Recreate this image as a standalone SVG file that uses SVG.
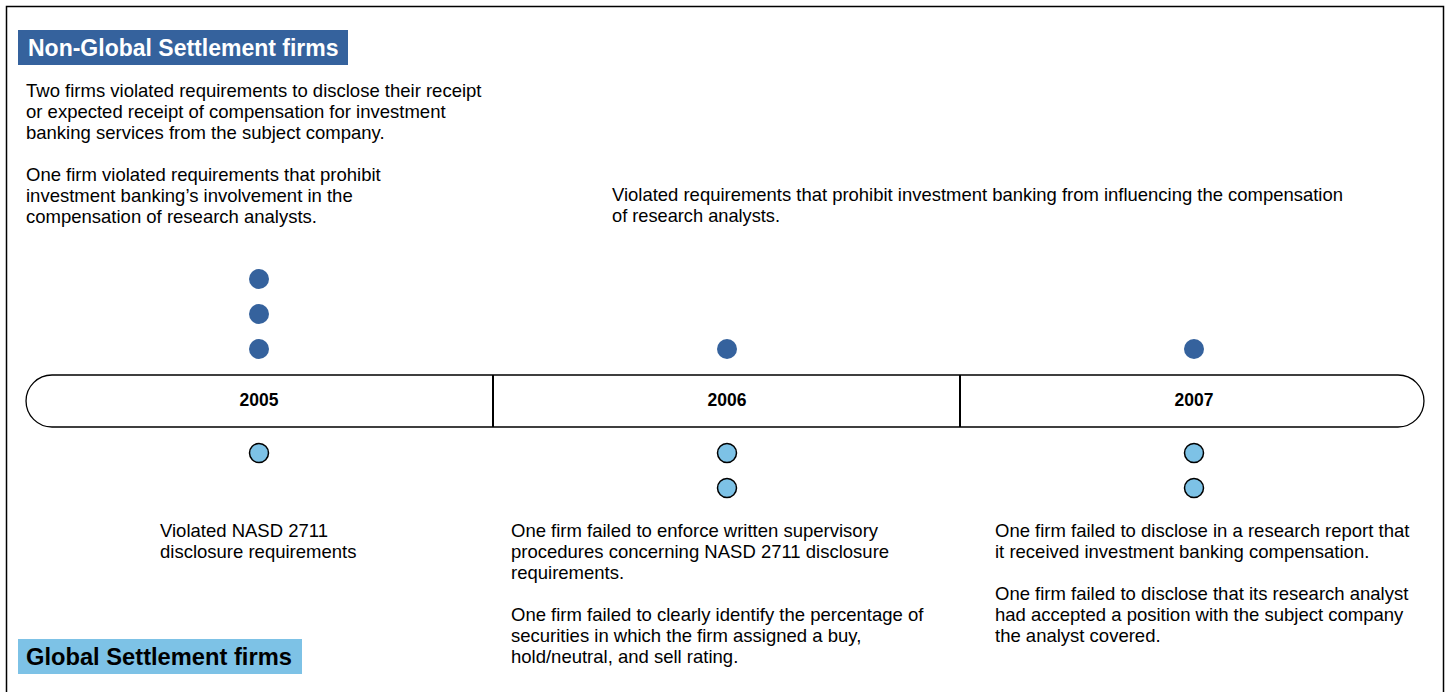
<svg xmlns="http://www.w3.org/2000/svg" width="1449" height="692" viewBox="0 0 1449 692">
<style>
  .t { font-family: "Liberation Sans", Arial, sans-serif; font-size: 18.5px; fill: #000; }
  .yr { font-family: "Liberation Sans", Arial, sans-serif; font-size: 17.5px; font-weight: bold; fill: #000; text-anchor: middle; }
  .hd { font-family: "Liberation Sans", Arial, sans-serif; font-size: 23px; font-weight: bold; }
  .dk { fill: #35629D; }
  .lt { fill: #7DC2E6; stroke: #000; stroke-width: 1.5; }
</style>
<rect x="0" y="0" width="1449" height="692" fill="#fff"/>
<rect x="6.5" y="6.5" width="1437" height="700" fill="none" stroke="#000" stroke-width="1.5"/>

<g id="header-nongs">
  <rect x="18" y="30" width="330" height="35" fill="#35629D"/>
  <text class="hd" x="28" y="56" fill="#fff">Non-Global Settlement firms</text>
</g>
<g id="header-gs">
  <rect x="18" y="639" width="284" height="35" fill="#7DC2E6"/>
  <text class="hd" x="26" y="665" fill="#000" style="font-size:23.7px">Global Settlement firms</text>
</g>

<g id="timeline">
  <path d="M52,375 H1398 A26,26 0 0 1 1398,427 H52 A26,26 0 0 1 52,375 Z" fill="#fff" stroke="#000" stroke-width="1.3"/>
  <line x1="493" y1="375" x2="493" y2="427" stroke="#000" stroke-width="2"/>
  <line x1="960" y1="375" x2="960" y2="427" stroke="#000" stroke-width="2"/>
  <text class="yr" x="259" y="406">2005</text>
  <text class="yr" x="727" y="406">2006</text>
  <text class="yr" x="1194" y="406">2007</text>
</g>

<g id="dots-nongs">
  <circle class="dk" cx="259" cy="279" r="10"/>
  <circle class="dk" cx="259" cy="314" r="10"/>
  <circle class="dk" cx="259" cy="349" r="10"/>
  <circle class="dk" cx="727" cy="349" r="10"/>
  <circle class="dk" cx="1194" cy="349" r="10"/>
</g>
<g id="dots-gs">
  <circle class="lt" cx="259" cy="453" r="9.5"/>
  <circle class="lt" cx="727" cy="453" r="9.5"/>
  <circle class="lt" cx="727" cy="488" r="9.5"/>
  <circle class="lt" cx="1194" cy="453" r="9.5"/>
  <circle class="lt" cx="1194" cy="488" r="9.5"/>
</g>

<g id="note-2005-top">
  <text class="t" x="26" y="97">Two firms violated requirements to disclose their receipt</text>
  <text class="t" x="26" y="118">or expected receipt of compensation for investment</text>
  <text class="t" x="26" y="139">banking services from the subject company.</text>
  <text class="t" x="26" y="181">One firm violated requirements that prohibit</text>
  <text class="t" x="26" y="202">investment banking’s involvement in the</text>
  <text class="t" x="26" y="223">compensation of research analysts.</text>
</g>
<g id="note-2006-top">
  <text class="t" x="612" y="201" textLength="731" lengthAdjust="spacingAndGlyphs">Violated requirements that prohibit investment banking from influencing the compensation</text>
  <text class="t" x="612" y="222" textLength="168" lengthAdjust="spacingAndGlyphs">of research analysts.</text>
</g>
<g id="note-2005-bottom">
  <text class="t" x="160" y="537">Violated NASD 2711</text>
  <text class="t" x="160" y="558">disclosure requirements</text>
</g>
<g id="note-2006-bottom">
  <text class="t" x="511" y="537">One firm failed to enforce written supervisory</text>
  <text class="t" x="511" y="558">procedures concerning NASD 2711 disclosure</text>
  <text class="t" x="511" y="579">requirements.</text>
  <text class="t" x="511" y="621">One firm failed to clearly identify the percentage of</text>
  <text class="t" x="511" y="642">securities in which the firm assigned a buy,</text>
  <text class="t" x="511" y="663">hold/neutral, and sell rating.</text>
</g>
<g id="note-2007-bottom">
  <text class="t" x="995" y="537">One firm failed to disclose in a research report that</text>
  <text class="t" x="995" y="558">it received investment banking compensation.</text>
  <text class="t" x="995" y="600">One firm failed to disclose that its research analyst</text>
  <text class="t" x="995" y="621">had accepted a position with the subject company</text>
  <text class="t" x="995" y="642">the analyst covered.</text>
</g>
<g id="connectors"></g>
</svg>
